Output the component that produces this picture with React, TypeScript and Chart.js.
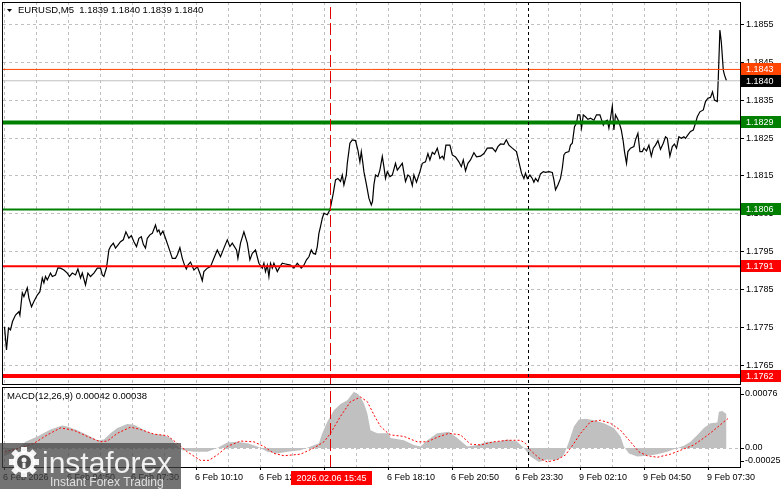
import React, { useEffect, useRef } from "react";
import { Chart, registerables } from "chart.js";

Chart.register(...registerables);

// ---------------- data ----------------
const SYMBOL_TITLE = "EURUSD,M5  1.1839 1.1840 1.1839 1.1840";
const MACD_TITLE = "MACD(12,26,9) 0.00042 0.00038";
const CURSOR_TIME = "2026.02.06 15:45";
const CURSOR_BAR = 163;
const DAY_BREAK_BAR = 262;

const TIME_LABELS = [
  "6 Feb 2026", "6 Feb 04:50", "6 Feb 07:30", "6 Feb 10:10", "6 Feb 12:50", "6 Feb 15:30",
  "6 Feb 18:10", "6 Feb 20:50", "6 Feb 23:30", "9 Feb 02:10", "9 Feb 04:50", "9 Feb 07:30",
];
const TIME_LABEL_STEP = 32; // bars between time labels
const GRID_STEP = 16; // bars between vertical grid lines

const PRICE_TICKS = [1.1855, 1.1845, 1.1835, 1.1825, 1.1815, 1.1805, 1.1795, 1.1785, 1.1775, 1.1765];
const MACD_TICKS = [0.00076, 0, -0.00025];

const LEVEL_VALUES = [1.1843, 1.184, 1.1829, 1.1806, 1.1791, 1.1762];

// bar index (5-minute bars from 6 Feb 02:10) and close price
const BAR_IDX = [
  0, 1, 2, 3, 4, 5.5, 7.2, 7.7, 8.9, 9.7,
  11.4, 12.2, 13.5, 14.7, 16.4, 17.7, 18.9, 19.7, 20.5, 21.4,
  23, 23.9, 25.5, 26.7, 28, 29.7, 31.4, 32.5, 33.9, 35.5,
  36.7, 38, 38.9, 40.5, 41.7, 43, 44.7, 46.4, 48, 48.9,
  49.7, 51, 52.2, 53, 54.4, 55.5, 56.7, 58, 59.4, 60.7,
  62.2, 63.4, 64.7, 66, 67.2, 68.4, 69.4, 70.5, 71.4, 72.7,
  73.9, 75.5, 76.4, 77.2, 78, 79.2, 80.5, 82.2, 83.9, 85.5,
  86.4, 87.7, 88.9, 90, 90.9, 91.7, 93, 94.7, 96.4, 98,
  98.9, 99.7, 101.4, 103, 104.7, 106.4, 108, 109.7, 111.4, 112.7,
  113.9, 116, 116.7, 118, 119.7, 121.4, 122.7, 123.9, 125.5, 127.2,
  128.9, 129.7, 130.5, 131.4, 132.2, 133, 133.9, 134.7, 136.4, 137.7,
  138.9, 140.5, 143, 144.7, 146.4, 148.4, 149.7, 151, 152.2, 153.4,
  154.4, 155.5, 156.4, 157.2, 158, 158.9, 159.7, 161.4, 162.7, 163.4,
  164.4, 165.5, 166.7, 168, 168.9, 169.7, 170.9, 171.4, 172.7, 173.9,
  175.5, 176.7, 177.7, 178.4, 179.2, 179.7, 181, 182.2, 183.4, 184,
  184.7, 185.5, 186.7, 187.7, 188.9, 189.7, 190.5, 191.4, 192.7, 193.9,
  195.5, 196.4, 197.7, 198.9, 200.5, 201.7, 202.7, 203.9, 204.7, 206,
  207.7, 208.9, 210.5, 211.7, 212.7, 213.9, 215, 216.4, 217.7, 218.9,
  219.7, 220.7, 222.7, 223.9, 225.5, 227.2, 228.4, 229.4, 230.5, 231.7,
  233, 234.7, 236, 238, 239.7, 241.4, 243.9, 245.5, 246.7, 248,
  249.7, 250.9, 252.2, 253.9, 256, 257.2, 258.5, 259.7, 260.5, 261.4,
  262.7, 263.9, 264.7, 265.5, 266.7, 268, 269.4, 270.5, 272.2, 273.9,
  274.7, 275.5, 276.7, 278, 278.9, 279.7, 280.5, 282.2, 283, 283.9,
  285, 286, 286.7, 287.7, 288.5, 289.4, 290.5, 291.7, 293, 294.7,
  296, 297.7, 299.4, 300.2, 301.4, 302.2, 303, 303.9, 304.7, 305.5,
  306.4, 307.2, 308.4, 309.4, 310, 311, 311.7, 313, 314.7, 315.5,
  316.7, 317.7, 318.9, 319.7, 321, 322.2, 323.4, 324.4, 325.5, 326.7,
  328, 329.4, 330.5, 331.4, 332.7, 333.9, 335, 336, 337.2, 338.4,
  339.7, 340.5, 341.7, 343, 344.4, 345.5, 346.4, 347.7, 349.4, 350.5,
  351.7, 353, 354, 355, 356.4, 356.9, 357.7, 358.4, 359.4, 360,
  361,
];
const PRICE = [
  1.1775, 1.17689, 1.17747, 1.17742, 1.17764, 1.17781, 1.1779, 1.17781, 1.1784, 1.1783,
  1.17853, 1.17826, 1.17803, 1.17817, 1.17834, 1.17843, 1.17879, 1.17866, 1.17883, 1.17874,
  1.17892, 1.17883, 1.17887, 1.17906, 1.17905, 1.179, 1.17892, 1.17883, 1.17892, 1.17887,
  1.17903, 1.17879, 1.17892, 1.17861, 1.17892, 1.17883, 1.17892, 1.17905, 1.17905, 1.17887,
  1.17883, 1.17906, 1.17953, 1.17962, 1.17971, 1.17958, 1.17966, 1.17975, 1.1798, 1.18001,
  1.17984, 1.17991, 1.17975, 1.17962, 1.17984, 1.17988, 1.17968, 1.17958, 1.17984, 1.17993,
  1.17997, 1.18019, 1.18001, 1.18006, 1.17993, 1.18003, 1.17984, 1.17958, 1.17931, 1.17931,
  1.1794, 1.17959, 1.17931, 1.17913, 1.17903, 1.17913, 1.17921, 1.179, 1.17909, 1.17887,
  1.17872, 1.17896, 1.17905, 1.17909, 1.17931, 1.17953, 1.17935, 1.17958, 1.1798, 1.17962,
  1.17971, 1.17953, 1.17931, 1.17971, 1.18001, 1.17971, 1.17927, 1.17944, 1.17953, 1.17918,
  1.17905, 1.17918, 1.17896, 1.17913, 1.17883, 1.17918, 1.17905, 1.17918, 1.17896, 1.17909,
  1.17918, 1.17916, 1.17913, 1.17905, 1.17918, 1.17905, 1.17913, 1.17927, 1.17935, 1.17953,
  1.17944, 1.17942, 1.17962, 1.17997, 1.18015, 1.18037, 1.1805, 1.18046, 1.18059, 1.18076,
  1.18103, 1.18138, 1.18142, 1.18134, 1.18151, 1.18125, 1.18151, 1.18182, 1.18235, 1.18244,
  1.18242, 1.18217, 1.18186, 1.18213, 1.18182, 1.1816, 1.18125, 1.1809, 1.18072, 1.18081,
  1.18125, 1.18151, 1.18147, 1.18164, 1.182, 1.18173, 1.18142, 1.1816, 1.18147, 1.18151,
  1.18182, 1.18164, 1.18173, 1.18182, 1.18134, 1.18151, 1.18147, 1.18123, 1.18151, 1.18132,
  1.1816, 1.18182, 1.18186, 1.18208, 1.18191, 1.18211, 1.18206, 1.18222, 1.18195, 1.18201,
  1.18193, 1.1823, 1.1823, 1.18204, 1.18199, 1.18186, 1.18173, 1.18191, 1.18162, 1.18182,
  1.18191, 1.1821, 1.18199, 1.18201, 1.18208, 1.18222, 1.18223, 1.18213, 1.18226, 1.18233,
  1.18232, 1.18244, 1.1823, 1.18222, 1.18213, 1.18186, 1.18156, 1.18142, 1.18156, 1.18142,
  1.18151, 1.18142, 1.18132, 1.18142, 1.18134, 1.18154, 1.1816, 1.18158, 1.1816, 1.18158,
  1.18138, 1.18112, 1.18125, 1.18142, 1.18169, 1.18204, 1.1821, 1.18213, 1.1823, 1.18235,
  1.18279, 1.18288, 1.1831, 1.1831, 1.18275, 1.1831, 1.18305, 1.18298, 1.18301, 1.18296,
  1.1831, 1.1831, 1.18283, 1.18292, 1.18296, 1.18275, 1.18301, 1.18333, 1.1827, 1.1831,
  1.18301, 1.18292, 1.1827, 1.18239, 1.18213, 1.18182, 1.18213, 1.18222, 1.18226, 1.18244,
  1.18261, 1.18213, 1.18213, 1.18222, 1.18215, 1.1823, 1.18201, 1.18222, 1.1823, 1.18242,
  1.18219, 1.18235, 1.18252, 1.18248, 1.18201, 1.18226, 1.18233, 1.18222, 1.18252, 1.18248,
  1.18252, 1.18248, 1.18257, 1.18266, 1.1827, 1.18288, 1.18305, 1.18318, 1.18323, 1.18345,
  1.18354, 1.18356, 1.18371, 1.18349, 1.18345, 1.18407, 1.18534, 1.18503, 1.18428, 1.18415,
  1.184,
];

// MACD histogram (main line) and signal line
const HIST_IDX = [
  0, 4, 7, 10.5, 16.4, 23, 28.9, 31.4, 36.4, 41.4, 46.4, 49.7, 53, 56.4, 61.4, 64.7, 68, 71.4, 74.7, 79.7,
  83, 86.4, 88.9, 94.7, 101.4, 106.4, 111.4, 116.4, 121.4, 126.4, 131.4, 136.4, 141.4, 148, 153, 157.2,
  158.9, 161.4, 164.7, 168, 171.4, 174.7, 177.2, 179.7, 181.4, 183, 186.4, 192.2, 193, 199.7, 204.7, 208,
  211.4, 216.4, 222.2, 226.4, 231.4, 236.4, 241.4, 246.4, 251.4, 256.4, 259.7, 263, 267.2, 271.4, 276.4,
  279.7, 282.2, 284.7, 287.2, 290.5, 294.7, 299.7, 304.7, 308, 309.7, 312.2, 316.4, 321.4, 326.4, 331.4,
  336.4, 339.7, 343, 346.4, 349.7, 353, 356.4, 357.2, 358.9, 361,
];
const HIST = [
  -0.0001, -0.00006, 0, 0.00008, 0.00015, 0.00024, 0.00029, 0.00028, 0.00023, 0.00017, 0.0001, 0.00011,
  0.00019, 0.00026, 0.00031, 0.0003, 0.00026, 0.00021, 0.00018, 0.00017, 0.00013, 0.00003, -0.00003,
  -0.00005, -0.00005, 0, 0.00007, 0.00008, 0.00006, 0.00002, -0.00005, -0.00007, -0.00005, -0.00003,
  0.00002, 0.00006, 0.00019, 0.00034, 0.00049, 0.00057, 0.00062, 0.00073, 0.00069, 0.00058, 0.00045,
  0.00023, 0.00019, 0.00019, 0.00013, 0.0001, 0.00004, 0.00002, 0.0001, 0.00019, 0.00021, 0.00013,
  0.00002, 0.00004, 0.00008, 0.00008, 0.00011, 0.00008, 0, -0.00011, -0.00018, -0.00015, -0.00016,
  -0.00009, 0.00008, 0.00028, 0.00037, 0.00038, 0.00036, 0.00032, 0.00026, 0.00015, 0.00002, -0.00007,
  -0.00011, -0.0001, -0.00008, -0.00005, 0, 0.00003, 0.00008, 0.00017, 0.00026, 0.00032, 0.00033,
  0.00047, 0.00048, 0.00044,
];
const SIG_IDX = [
  0, 8, 14.7, 21.4, 28, 34.7, 41.4, 48, 51.4, 56.4, 63, 68, 74.7, 81.4, 86.4, 91.4, 98, 102.2, 106.4,
  111.4, 118, 124.7, 129.7, 134.7, 139.7, 148, 154.7, 159.7, 163, 168, 173, 178, 181.4, 184.7, 188, 191.4,
  193, 199.7, 206.4, 211.4, 216.4, 222.2, 228, 233, 238, 244.7, 251.4, 258, 260.5, 263, 267.2, 271.4,
  276.4, 280.5, 284.7, 288, 293, 298, 303, 308, 313, 317.2, 321.4, 326.4, 333, 338, 344.7, 349.7, 354.7,
  359.7, 361.7,
];
const SIGNAL = [
  -0.00005, 0, 0.00006, 0.00017, 0.00026, 0.00023, 0.00015, 0.00008, 0.00009, 0.00019, 0.00027, 0.00024,
  0.00018, 0.00016, 0.00006, -0.00005, -0.00016, -0.00016, -0.00009, 0.00002, 0.00009, 0.00008, 0.00002,
  -0.00007, -0.0001, -0.00008, 0, 0.00008, 0.00019, 0.00041, 0.0006, 0.00066, 0.0006, 0.00043, 0.00028,
  0.0002, 0.00017, 0.00015, 0.00008, 0.00008, 0.00014, 0.00019, 0.00017, 0.00005, 0.00004, 0.00008,
  0.0001, 0.0001, 0.00006, -0.00003, -0.00013, -0.00018, -0.00015, -0.00009, 0.00006, 0.00019, 0.00034,
  0.00036, 0.00032, 0.00023, 0.00008, -0.00005, -0.0001, -0.00012, -0.00008, -0.00003, 0.00004, 0.00013,
  0.00023, 0.00034, 0.00038,
];

// ---------------- layout / style ----------------
const W = 781;
const H = 489;
const X_MIN = -0.75;
const X_MAX = 367.75;
const Y_MIN = 1.173798;
const Y_MAX = 1.186081;
const Y2_MIN = -0.000246;
const Y2_MAX = 0.005776;
const MAIN_BOTTOM = 384;
const MACD_TOP = 387;

const LEVEL_STYLE = [
  { color: "#ff4500", width: 1, box: "#ff4500" },
  { color: "#c0c0c0", width: 1, box: "#000000" },
  { color: "#008000", width: 4, box: "#008000" },
  { color: "#008000", width: 2, box: "#008000" },
  { color: "#ff0000", width: 2, box: "#ff0000" },
  { color: "#ff0000", width: 4, box: "#ff0000" },
];

const FONT = '"Liberation Sans", Arial, sans-serif';

function zip(a: number[], b: number[]) {
  const n = Math.min(a.length, b.length);
  const out: { x: number; y: number }[] = [];
  for (let k = 0; k < n; k++) out.push({ x: a[k], y: b[k] });
  return out;
}

function hLine(ctx: CanvasRenderingContext2D, x1: number, x2: number, y: number) {
  ctx.beginPath();
  ctx.moveTo(x1, y);
  ctx.lineTo(x2, y);
  ctx.stroke();
}
function vLine(ctx: CanvasRenderingContext2D, x: number, y1: number, y2: number) {
  ctx.beginPath();
  ctx.moveTo(x, y1);
  ctx.lineTo(x, y2);
  ctx.stroke();
}

const mt4Plugin = {
  id: "mt4",
  beforeDatasetsDraw(chart: any) {
    const { ctx, chartArea: a, scales } = chart;
    const xs = scales.x, ys = scales.y, y2s = scales.y2;
    ctx.save();
    ctx.fillStyle = "#ffffff";
    ctx.fillRect(0, 0, chart.width, chart.height);
    ctx.strokeStyle = "#c0c0c0";
    ctx.lineWidth = 1;
    ctx.setLineDash([3, 3]);
    for (const v of PRICE_TICKS) {
      const py = Math.round(ys.getPixelForValue(v)) + 0.5;
      hLine(ctx, a.left, a.right + 4, py);
    }
    for (let i = 0; i <= X_MAX; i += GRID_STEP) {
      const px = Math.floor(xs.getPixelForValue(i)) + 0.5;
      vLine(ctx, px, a.top, MAIN_BOTTOM);
      vLine(ctx, px, MACD_TOP, a.bottom);
    }
    const zy = Math.round(y2s.getPixelForValue(0)) + 0.5;
    hLine(ctx, a.left, a.right, zy);
    ctx.restore();
  },
  afterDatasetsDraw(chart: any) {
    const { ctx, chartArea: a, scales } = chart;
    const xs = scales.x, ys = scales.y, y2s = scales.y2;
    ctx.save();
    // clear axis areas
    ctx.fillStyle = "#ffffff";
    ctx.fillRect(a.right + 1, 0, W - a.right, H);
    ctx.fillRect(0, a.bottom + 1, W, H - a.bottom);
    ctx.fillRect(0, MAIN_BOTTOM + 1, a.right + 1, MACD_TOP - MAIN_BOTTOM - 1);

    // borders
    ctx.strokeStyle = "#000000";
    ctx.lineWidth = 1;
    ctx.setLineDash([]);
    ctx.strokeRect(2.5, 2.5, a.right - 2, MAIN_BOTTOM - 2);
    ctx.strokeRect(2.5, MACD_TOP + 0.5, a.right - 2, a.bottom - MACD_TOP);

    ctx.font = `9px ${FONT}`;
    ctx.textBaseline = "middle";
    ctx.textAlign = "left";

    // price axis
    ctx.fillStyle = "#000000";
    for (const v of PRICE_TICKS) {
      const py = Math.round(ys.getPixelForValue(v)) + 0.5;
      hLine(ctx, a.right, a.right + 4, py);
      ctx.fillText(v.toFixed(4), a.right + 6, py);
    }
    // level boxes
    LEVEL_VALUES.forEach((v, k) => {
      const py = Math.round(ys.getPixelForValue(v));
      ctx.fillStyle = LEVEL_STYLE[k].box;
      ctx.fillRect(a.right + 1, py - 6, W - a.right - 1, 12);
      ctx.fillStyle = "#ffffff";
      ctx.fillText(v.toFixed(4), a.right + 6, py + 0.5);
    });

    // macd axis
    ctx.fillStyle = "#000000";
    MACD_TICKS.forEach((v) => {
      let py = y2s.getPixelForValue(v);
      py = Math.max(MACD_TOP + 7, Math.min(a.bottom - 6, py));
      const txt = v === 0 ? "0.00" : v.toFixed(5);
      ctx.fillText(txt, a.right + 5, py);
      hLine(ctx, a.right, a.right + 4, Math.round(py) + 0.5);
    });

    // titles
    ctx.beginPath();
    ctx.moveTo(7, 9);
    ctx.lineTo(12, 9);
    ctx.lineTo(9.5, 12);
    ctx.closePath();
    ctx.fill();
    ctx.font = `9.5px ${FONT}`;
    ctx.fillText(SYMBOL_TITLE, 18, 10.5);
    ctx.fillText(MACD_TITLE, 7, 396);
    ctx.font = `9px ${FONT}`;

    // time axis
    TIME_LABELS.forEach((t, k) => {
      const i = k * TIME_LABEL_STEP;
      const px = Math.floor(xs.getPixelForValue(i));
      ctx.fillText(t, px - 1, 478);
      vLine(ctx, px + 0.5, a.bottom, a.bottom + 3);
    });

    // cursor time box
    const cx = xs.getPixelForValue(CURSOR_BAR);
    ctx.fillStyle = "#ff0000";
    ctx.fillRect(Math.round(cx) - 40, 471, 81, 14);
    ctx.fillStyle = "#ffffff";
    ctx.textAlign = "center";
    ctx.fillText(CURSOR_TIME, Math.round(cx) + 0.5, 478.5);

    // watermark
    ctx.fillStyle = "rgba(66,66,66,0.74)";
    ctx.fillRect(0, 443, 181, H - 443);
    ctx.fillStyle = "rgba(255,255,255,0.92)";
    const gx = 24, gy = 462;
    for (let k = 0; k < 8; k++) {
      const ang = (k * Math.PI) / 4;
      ctx.save();
      ctx.translate(gx, gy);
      ctx.rotate(ang);
      ctx.fillRect(-3, -15, 6, 6);
      ctx.restore();
    }
    ctx.beginPath();
    ctx.arc(gx, gy, 11, 0, Math.PI * 2);
    ctx.fill();
    ctx.fillStyle = "rgba(80,80,80,1)";
    ctx.beginPath();
    ctx.arc(gx, gy, 7, 0, Math.PI * 2);
    ctx.fill();
    ctx.fillStyle = "rgba(255,255,255,0.92)";
    ctx.beginPath();
    ctx.arc(gx, gy - 2, 2.5, 0, Math.PI * 2);
    ctx.fill();
    ctx.fillRect(gx - 1.5, gy + 1, 3, 5);
    ctx.textAlign = "left";
    ctx.textBaseline = "alphabetic";
    ctx.font = `30px ${FONT}`;
    ctx.fillStyle = "rgba(255,255,255,0.9)";
    ctx.fillText("instaforex", 42, 473);
    ctx.font = `12px ${FONT}`;
    ctx.fillStyle = "rgba(235,235,235,0.9)";
    ctx.fillText("Instant Forex Trading", 50, 486);
    ctx.restore();
  },
};

export default function App() {
  const ref = useRef<HTMLCanvasElement>(null);
  useEffect(() => {
    document.body.style.margin = "0";
    const canvas = ref.current;
    if (!canvas) return;
    const levelSets = LEVEL_VALUES.map((v, k) => ({
      type: "line" as const,
      data: [
        { x: X_MIN, y: v },
        { x: X_MAX, y: v },
      ],
      borderColor: LEVEL_STYLE[k].color,
      borderWidth: LEVEL_STYLE[k].width,
      pointRadius: 0,
      yAxisID: "y",
      order: 3,
    }));
    const chart = new Chart(canvas, {
      type: "line",
      data: {
        datasets: [
          {
            data: zip(HIST_IDX, HIST),
            yAxisID: "y2",
            borderColor: "rgba(0,0,0,0)",
            borderWidth: 0,
            backgroundColor: "#c0c0c0",
            fill: { target: { value: 0 } },
            pointRadius: 0,
            order: 10,
          },
          {
            data: zip(SIG_IDX, SIGNAL),
            yAxisID: "y2",
            borderColor: "#ff0000",
            borderWidth: 1,
            borderDash: [2, 2],
            pointRadius: 0,
            fill: false,
            order: 9,
          },
          {
            data: zip(BAR_IDX, PRICE),
            yAxisID: "y",
            borderColor: "#000000",
            borderWidth: 1.2,
            pointRadius: 0,
            fill: false,
            order: 5,
          },
          ...levelSets,
          {
            data: [
              { x: DAY_BREAK_BAR, y: Y_MIN },
              { x: DAY_BREAK_BAR, y: Y_MAX },
            ],
            yAxisID: "y",
            borderColor: "#000000",
            borderWidth: 1,
            borderDash: [3, 3],
            pointRadius: 0,
            order: 2,
          },
          {
            data: [
              { x: CURSOR_BAR, y: Y_MIN },
              { x: CURSOR_BAR, y: Y_MAX },
            ],
            yAxisID: "y",
            borderColor: "#e00000",
            borderWidth: 1,
            borderDash: [12, 4],
            pointRadius: 0,
            order: 1,
          },
        ] as any,
      },
      options: {
        animation: false,
        responsive: false,
        maintainAspectRatio: false,
        layout: { padding: { left: 3, top: 2, right: W - 740, bottom: H - 467 } },
        plugins: { legend: { display: false }, tooltip: { enabled: false } },
        elements: { line: { tension: 0 }, point: { radius: 0 } },
        scales: {
          x: { type: "linear", display: false, min: X_MIN, max: X_MAX },
          y: { type: "linear", display: false, min: Y_MIN, max: Y_MAX },
          y2: { type: "linear", display: false, min: Y2_MIN, max: Y2_MAX },
        },
      },
      plugins: [mt4Plugin],
    });
    return () => chart.destroy();
  }, []);
  return <canvas ref={ref} width={W} height={H} style={{ display: "block", width: W, height: H }} />;
}
